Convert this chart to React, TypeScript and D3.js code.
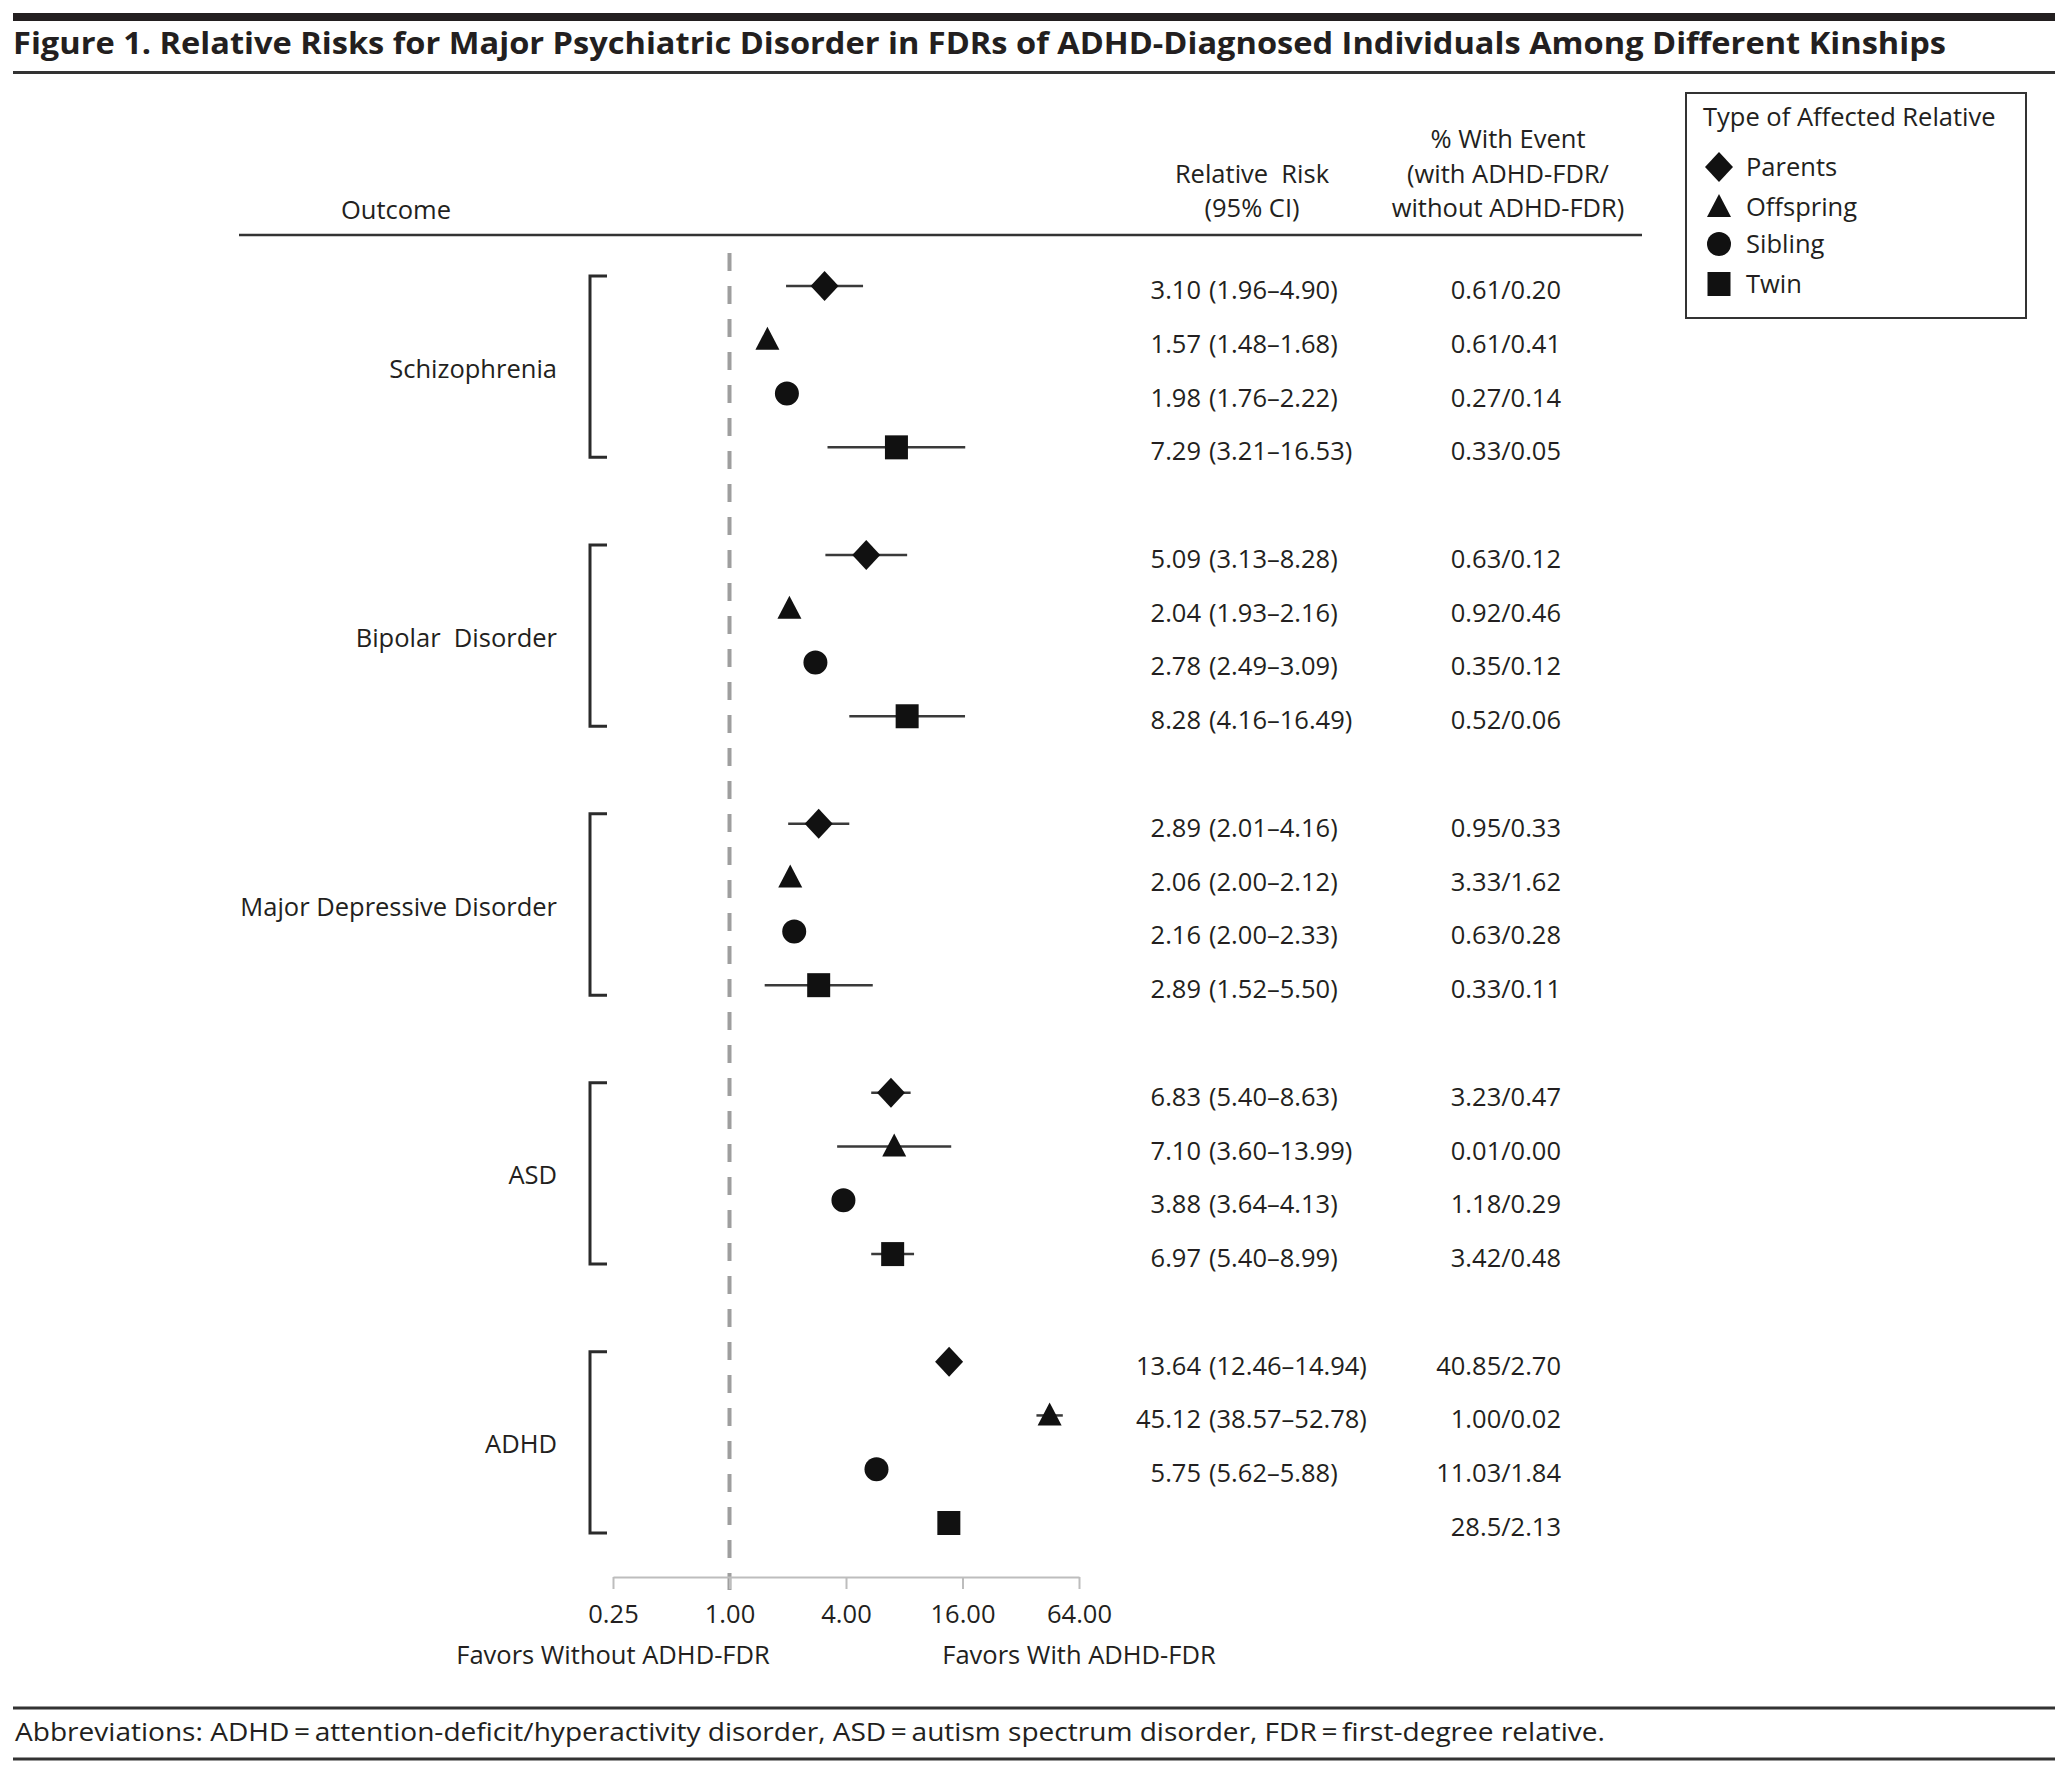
import { useEffect, useRef } from 'react';
import * as d3 from 'd3';

// Forest plot: relative risks in FDRs of ADHD-diagnosed individuals
const outcomes = ['Schizophrenia', 'Bipolar  Disorder', 'Major Depressive Disorder', 'ASD', 'ADHD'];
const relatives = ['Parents', 'Offspring', 'Sibling', 'Twin'];
const shapes = ['diamond', 'triangle', 'circle', 'square'];

const estimates = [
  [3.10, 1.57, 1.98, 7.29],
  [5.09, 2.04, 2.78, 8.28],
  [2.89, 2.06, 2.16, 2.89],
  [6.83, 7.10, 3.88, 6.97],
  [13.64, 45.12, 5.75, 13.6],
];
const lowerCI = [
  [1.96, 1.48, 1.76, 3.21],
  [3.13, 1.93, 2.49, 4.16],
  [2.01, 2.00, 2.00, 1.52],
  [5.40, 3.60, 3.64, 5.40],
  [12.46, 38.57, 5.62, null],
];
const upperCI = [
  [4.90, 1.68, 2.22, 16.53],
  [8.28, 2.16, 3.09, 16.49],
  [4.16, 2.12, 2.33, 5.50],
  [8.63, 13.99, 4.13, 8.99],
  [14.94, 52.78, 5.88, null],
];
const pctEvent = [
  ['0.61/0.20', '0.61/0.41', '0.27/0.14', '0.33/0.05'],
  ['0.63/0.12', '0.92/0.46', '0.35/0.12', '0.52/0.06'],
  ['0.95/0.33', '3.33/1.62', '0.63/0.28', '0.33/0.11'],
  ['3.23/0.47', '0.01/0.00', '1.18/0.29', '3.42/0.48'],
  ['40.85/2.70', '1.00/0.02', '11.03/1.84', '28.5/2.13'],
];
const axisTicks = [0.25, 1, 4, 16, 64];

const W = 2072;
const H = 1779;
const FONT = "'Open Sans', 'Noto Sans', sans-serif";
const INK = '#231f20';
const FS = 25.5;

const fmt = d3.format('.2f');

function markerPath(shape: string, cx: number, cy: number) {
  const p = d3.path();
  if (shape === 'diamond') {
    p.moveTo(cx, cy - 15); p.lineTo(cx + 14, cy); p.lineTo(cx, cy + 15); p.lineTo(cx - 14, cy); p.closePath();
  } else if (shape === 'triangle') {
    p.moveTo(cx, cy - 13); p.lineTo(cx + 12, cy + 10); p.lineTo(cx - 12, cy + 10); p.closePath();
  } else if (shape === 'circle') {
    p.arc(cx, cy, 12, 0, Math.PI * 2);
  } else {
    p.rect(cx - 11.5, cy - 12, 23, 24);
  }
  return p.toString();
}

export default function App() {
  const axisRef = useRef<SVGGElement>(null);

  const x = d3.scaleLog().base(4).domain([0.25, 64]).range([613, 1079]);
  const rowY = d3.scaleLinear().domain([0, 23]).range([286, 1523]);
  const axisY = 1577;

  useEffect(() => {
    document.body.style.margin = '0';
    if (!axisRef.current) return;
    const g = d3.select(axisRef.current);
    g.selectAll('*').remove();
    g.call(
      d3.axisBottom(x)
        .tickValues(axisTicks)
        .tickFormat(d => fmt(d as number))
        .tickSize(12)
        .tickSizeOuter(0)
    );
    g.attr('font-family', FONT).attr('font-size', FS);
    g.select('.domain').attr('stroke', '#bdbdbd').attr('stroke-width', 2);
    g.selectAll('.tick line').attr('stroke', '#bdbdbd').attr('stroke-width', 2);
    g.selectAll('.tick text').attr('fill', INK).attr('dy', null).attr('y', 46);
  }, []);

  const rows = outcomes.flatMap((o, gi) =>
    relatives.map((r, ri) => ({
      gi, ri,
      y: rowY(gi * 5 + ri),
      est: estimates[gi][ri],
      lo: lowerCI[gi][ri],
      hi: upperCI[gi][ri],
      pct: pctEvent[gi][ri],
      shape: shapes[ri],
    }))
  );

  return (
    <svg width={W} height={H} style={{ position: 'absolute', left: 0, top: 0, background: '#fff' }}
      fontFamily={FONT} fill={INK}>
      <rect x={0} y={0} width={W} height={H} fill="#fff" />
      {/* title block */}
      <rect x={13} y={13} width={2042} height={8} fill={INK} />
      <text x={13} y={54} fontSize={31} fontWeight={700} textLength={1933} lengthAdjust="spacingAndGlyphs">
        Figure 1. Relative Risks for Major Psychiatric Disorder in FDRs of ADHD-Diagnosed Individuals Among Different Kinships
      </text>
      <line x1={13} x2={2055} y1={72.5} y2={72.5} stroke="#333" strokeWidth={3} />

      {/* column headers */}
      <g fontSize={FS}>
        <text x={341} y={219}>Outcome</text>
        <text x={1252} y={183} textAnchor="middle" style={{ whiteSpace: 'pre' }}>Relative  Risk</text>
        <text x={1252} y={217} textAnchor="middle">(95% CI)</text>
        <text x={1508} y={148} textAnchor="middle">% With Event</text>
        <text x={1508} y={183} textAnchor="middle">(with ADHD-FDR/</text>
        <text x={1508} y={217} textAnchor="middle">without ADHD-FDR)</text>
      </g>
      <line x1={239} x2={1642} y1={235} y2={235} stroke="#333" strokeWidth={2.5} />

      {/* reference line at RR = 1 */}
      <line x1={x(1)} x2={x(1)} y1={253} y2={1590} stroke="#9e9e9e" strokeWidth={4} strokeDasharray="18 15" />

      {/* axis */}
      <g ref={axisRef} transform={`translate(0,${axisY})`} />
      <g fontSize={FS}>
        <text x={x(0.25)} y={1664} textAnchor="middle">Favors Without ADHD-FDR</text>
        <text x={x(64)} y={1664} textAnchor="middle">Favors With ADHD-FDR</text>
      </g>

      {/* group labels and brackets */}
      {outcomes.map((o, gi) => {
        const top = rowY(gi * 5) - 10;
        const bot = rowY(gi * 5 + 3) + 10;
        const mid = (rowY(gi * 5) + rowY(gi * 5 + 3)) / 2;
        return (
          <g key={o}>
            <text x={557} y={mid + 11} fontSize={FS} textAnchor="end" style={{ whiteSpace: 'pre' }}>{o}</text>
            <path d={`M607,${top}H590V${bot}H607`} fill="none" stroke="#2b2b2b" strokeWidth={3} />
          </g>
        );
      })}

      {/* CI lines and markers */}
      {rows.map((d, i) => (
        <g key={i}>
          {d.lo != null && d.hi != null && (
            <line x1={x(d.lo)} x2={x(d.hi)} y1={d.y} y2={d.y} stroke="#3a3a3a" strokeWidth={2.5} />
          )}
          <path d={markerPath(d.shape, x(d.est), d.y)} fill="#111" />
        </g>
      ))}

      {/* value columns */}
      <g fontSize={FS}>
        {rows.map((d, i) => (
          <g key={i}>
            {d.lo != null && d.hi != null && (
              <>
                <text x={1201} y={d.y + 13} textAnchor="end">{fmt(d.est)}</text>
                <text x={1209} y={d.y + 13}>({fmt(d.lo)}–{fmt(d.hi)})</text>
              </>
            )}
            <text x={1561} y={d.y + 13} textAnchor="end">{d.pct}</text>
          </g>
        ))}
      </g>

      {/* legend */}
      <rect x={1686} y={93} width={340} height={225} fill="none" stroke="#333" strokeWidth={2} />
      <text x={1703} y={126} fontSize={FS}>Type of Affected Relative</text>
      {relatives.map((r, i) => {
        const cy = [167, 207, 244, 284][i];
        return (
          <g key={r}>
            <path d={markerPath(shapes[i], 1719, cy)} fill="#111" />
            <text x={1746} y={cy + 9} fontSize={FS}>{r}</text>
          </g>
        );
      })}

      {/* footer */}
      <line x1={13} x2={2055} y1={1708} y2={1708} stroke="#333" strokeWidth={3} />
      <text x={15} y={1741} fontSize={FS} textLength={1590} lengthAdjust="spacingAndGlyphs">
        Abbreviations: ADHD{'\u2009'}={'\u2009'}attention-deficit/hyperactivity disorder, ASD{'\u2009'}={'\u2009'}autism spectrum disorder, FDR{'\u2009'}={'\u2009'}first-degree relative.
      </text>
      <line x1={13} x2={2055} y1={1759} y2={1759} stroke="#333" strokeWidth={3} />
    </svg>
  );
}
